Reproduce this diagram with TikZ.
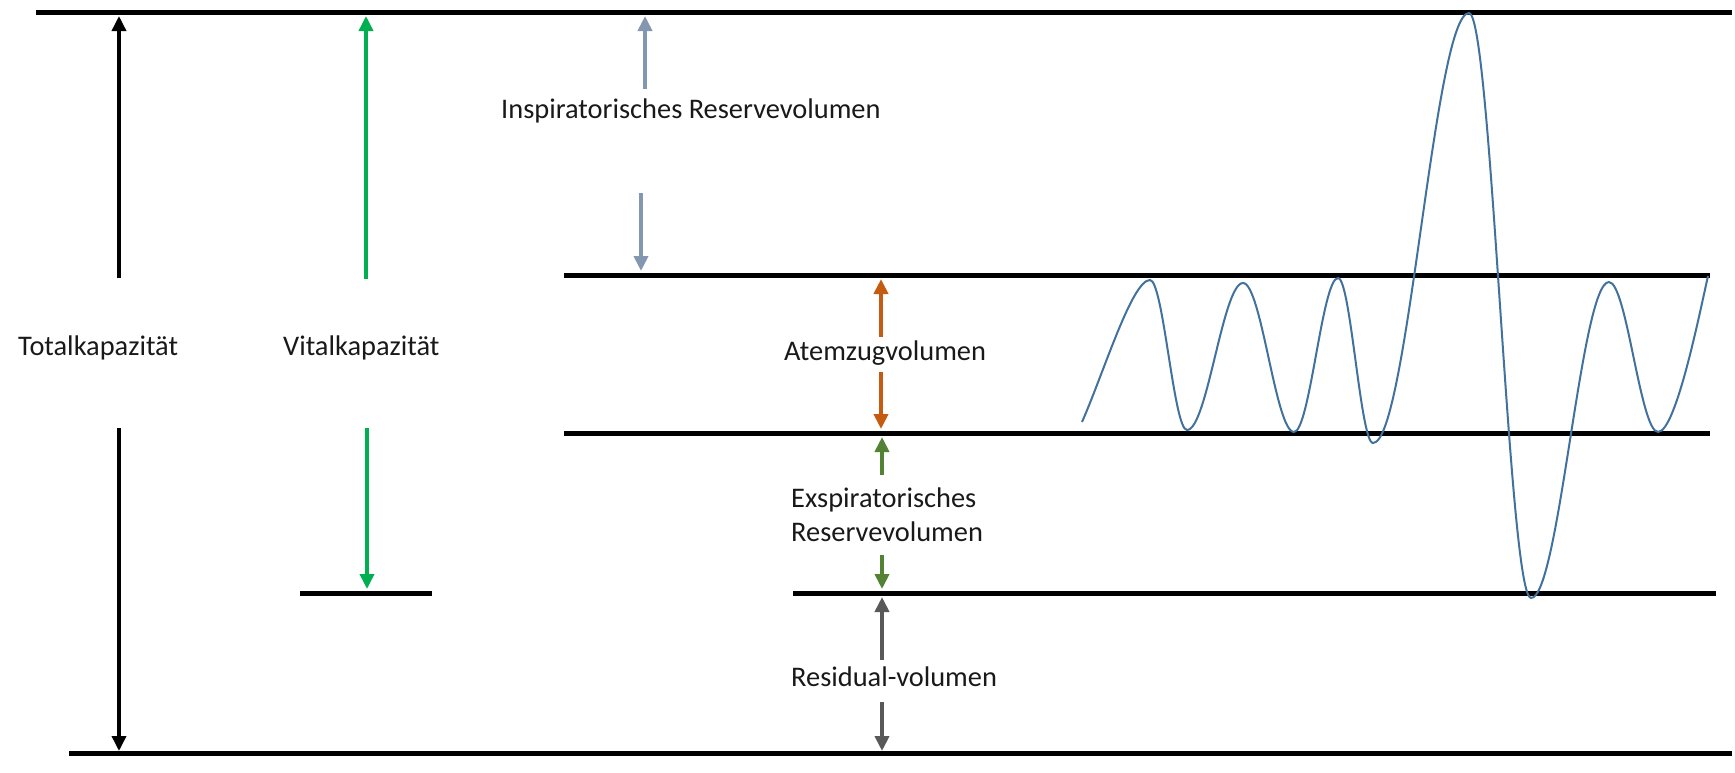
\documentclass[tikz,border=0pt]{standalone}
\usepackage{fontspec}
\setmainfont{Carlito}
\usetikzlibrary{arrows.meta}
\definecolor{irvcol}{HTML}{8497B0}
\definecolor{atzcol}{HTML}{C55A11}
\definecolor{ervcol}{HTML}{548235}
\definecolor{rvcol}{HTML}{595959}
\definecolor{vkcol}{HTML}{00B050}
\definecolor{curvecol}{HTML}{41719C}
\begin{document}
\begin{tikzpicture}[x=1pt,y=-1pt,
  level/.style={line width=5pt},
  dimarrow/.style={line width=4pt,-{Triangle[length=15pt,width=14pt]}},
  lbl/.style={anchor=base west,inner sep=0pt,text=black!90,font=\fontsize{28.4}{34}\selectfont},
  breath/.style={draw=curvecol,line width=2pt}]
\useasboundingbox (0,0) rectangle (1735,772);

% horizontal levels
\coordinate (TLa) at (36,12.5);   \coordinate (TLb) at (1732,12.5);
\coordinate (L2a) at (564,275);   \coordinate (L2b) at (1710,275);
\coordinate (L3a) at (564,433);   \coordinate (L3b) at (1710,433);
\coordinate (L4a) at (300,593);   \coordinate (L4b) at (432,593);
\coordinate (L5a) at (793,593);   \coordinate (L5b) at (1716,593);
\coordinate (BLa) at (69,753);    \coordinate (BLb) at (1732,753);
\draw[level] (TLa) -- (TLb);
\draw[level] (L2a) -- (L2b);
\draw[level] (L3a) -- (L3b);
\draw[level] (L4a) -- (L4b);
\draw[level] (L5a) -- (L5b);
\draw[level] (BLa) -- (BLb);

% labels
\node[lbl] (tk)  at (18,355)  {Totalkapazität};
\node[lbl] (vk)  at (283,355) {Vitalkapazität};
\node[lbl] (irv) at (501,118) {Inspiratorisches Reservevolumen};
\node[lbl] (atz) at (784,360) {Atemzugvolumen};
\node[lbl] (erv1) at (791,507) {Exspiratorisches};
\node[lbl] (erv2) at (791,541) {Reservevolumen};
\node[lbl] (rv)  at (791,686) {Residual-volumen};

% Totalkapazitaet
\coordinate (tkA) at (119,278); \coordinate (tkAt) at (119,16);
\coordinate (tkB) at (119,428); \coordinate (tkBt) at (119,751);
\draw[dimarrow,black,line width=3.5pt] (tkA) -- (tkAt);
\draw[dimarrow,black,line width=3.5pt] (tkB) -- (tkBt);
% Vitalkapazitaet
\coordinate (vkA) at (366,279); \coordinate (vkAt) at (366,16);
\coordinate (vkB) at (367,428); \coordinate (vkBt) at (367,589);
\draw[dimarrow,vkcol,line width=3.5pt] (vkA) -- (vkAt);
\draw[dimarrow,vkcol,line width=3.5pt] (vkB) -- (vkBt);
% IRV
\coordinate (irA) at (645,89);  \coordinate (irAt) at (645,16);
\coordinate (irB) at (641,193); \coordinate (irBt) at (641,271);
\draw[dimarrow,irvcol] (irA) -- (irAt);
\draw[dimarrow,irvcol] (irB) -- (irBt);
% Atemzugvolumen
\coordinate (azA) at (881,337); \coordinate (azAt) at (881,279);
\coordinate (azB) at (881,372); \coordinate (azBt) at (881,429);
\draw[dimarrow,atzcol] (azA) -- (azAt);
\draw[dimarrow,atzcol] (azB) -- (azBt);
% ERV
\coordinate (evA) at (882,475); \coordinate (evAt) at (882,437);
\coordinate (evB) at (882,555); \coordinate (evBt) at (882,589);
\draw[dimarrow,ervcol] (evA) -- (evAt);
\draw[dimarrow,ervcol] (evB) -- (evBt);
% RV
\coordinate (rvA) at (882,660); \coordinate (rvAt) at (882,597);
\coordinate (rvB) at (882,702); \coordinate (rvBt) at (882,751);
\draw[dimarrow,rvcol] (rvA) -- (rvAt);
\draw[dimarrow,rvcol] (rvB) -- (rvBt);

% spirogram curve
\coordinate (s0) at (1082,422);
\coordinate (s10) at (1708,276);
\draw[breath] (s0)
  .. controls (1104,372) and (1132,280) .. (1150,280)
  .. controls (1163.3,280) and (1173.7,430) .. (1187,430)
  .. controls (1207.2,430) and (1222.8,283) .. (1243,283)
  .. controls (1261.4,283) and (1275.6,432) .. (1294,432)
  .. controls (1309.8,432) and (1322.2,278) .. (1338,278)
  .. controls (1350.6,278) and (1360.4,443) .. (1373,443)
  .. controls (1407.6,443) and (1434.4,13) .. (1469,13)
  .. controls (1491.3,13) and (1508.7,598) .. (1531,598)
  .. controls (1559.1,598) and (1580.9,282) .. (1609,282)
  .. controls (1626.6,282) and (1640.4,432) .. (1658,432)
  .. controls (1676,432) and (1700,311) .. (s10);
\end{tikzpicture}
\end{document}
